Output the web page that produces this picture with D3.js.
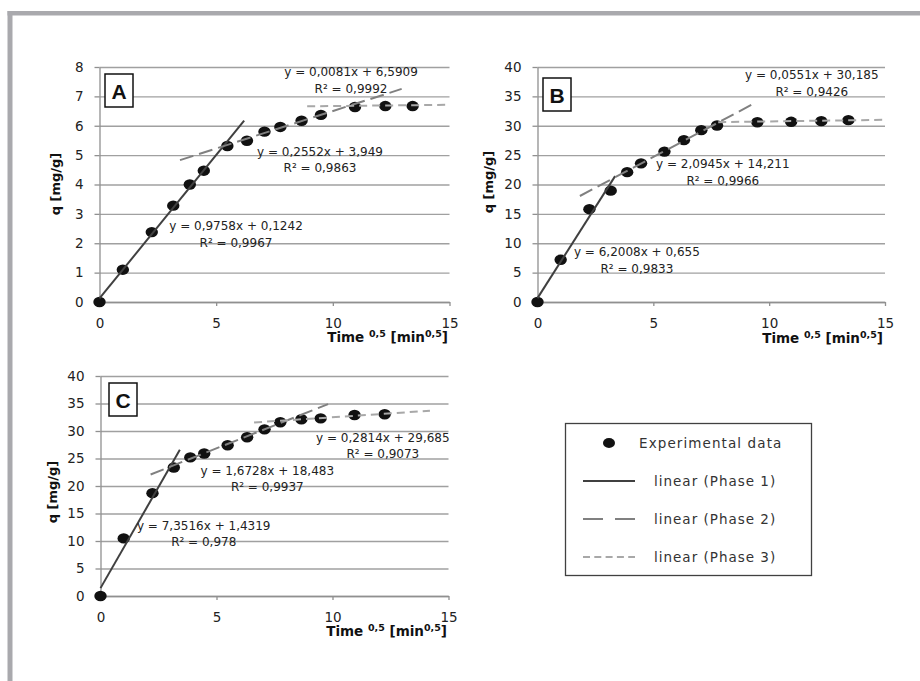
<!DOCTYPE html>
<html>
<head>
<meta charset="utf-8">
<script src="https://cdn.jsdelivr.net/npm/d3@7"></script>
<style>
  body { margin: 0; background: #fff; }
  svg { display: block; font-family: 'DejaVu Sans', sans-serif; }
</style>
</head>
<body>
<svg></svg>
<script>
const width = 920
const height = 681

// ---- data ----
const xTicks = [0, 5, 10, 15]
const yTicksA = [0, 1, 2, 3, 4, 5, 6, 7, 8]
const yTicksBC = [0, 5, 10, 15, 20, 25, 30, 35, 40]

// time^0.5 [min^0.5] and q [mg/g]
const timeA = [0, 1, 2.24, 3.16, 3.87, 4.47, 5.48, 6.32, 7.07, 7.75, 8.66, 9.49, 10.95, 12.25, 13.42]
const qA = [0, 1.1, 2.38, 3.28, 4.0, 4.47, 5.31, 5.49, 5.8, 5.96, 6.17, 6.37, 6.64, 6.67, 6.67]

const timeB = [0, 1, 2.24, 3.16, 3.87, 4.47, 5.48, 6.32, 7.07, 7.75, 9.49, 10.95, 12.25, 13.42]
const qB = [0, 7.19, 15.8, 18.95, 22.1, 23.6, 25.6, 27.55, 29.25, 30.05, 30.6, 30.67, 30.78, 30.95]

const timeC = [0, 1, 2.24, 3.16, 3.87, 4.47, 5.48, 6.32, 7.07, 7.75, 8.66, 9.49, 10.95, 12.25]
const qC = [0, 10.47, 18.7, 23.36, 25.2, 25.9, 27.4, 28.87, 30.3, 31.6, 32.13, 32.3, 32.9, 33.04]

// linear fits per phase (1, 2, 3)
const slopesA = [0.9758, 0.2552, 0.0081]
const interceptsA = [0.1242, 3.949, 6.5909]
const r2A = [0.9967, 0.9863, 0.9992]
const fitFromA = [0, 3.45, 8.9]
const fitToA = [6.2, 12.95, 15]

const slopesB = [6.2008, 2.0945, 0.0551]
const interceptsB = [0.655, 14.211, 30.185]
const r2B = [0.9833, 0.9966, 0.9426]
const fitFromB = [0, 1.83, 7.8]
const fitToB = [3.35, 9.43, 15]

const slopesC = [7.3516, 1.6728, 0.2814]
const interceptsC = [1.4319, 18.483, 29.685]
const r2C = [0.978, 0.9937, 0.9073]
const fitFromC = [0, 2.16, 6.62]
const fitToC = [3.42, 9.81, 14.2]

const phaseNames = ['linear (Phase 1)', 'linear (Phase 2)', 'linear (Phase 3)']
const pointName = 'Experimental data'

// ---- layout ----
const phaseStyle = [
  { stroke: '#404040', dash: null, legendDash: null },
  { stroke: '#808080', dash: '14,6', legendDash: '20,12' },
  { stroke: '#a8a8a8', dash: '8,5', legendDash: '7,4.3' },
]

const panels = [
  {
    letter: 'A', time: timeA, q: qA, yMax: 8, yTicks: yTicksA,
    slopes: slopesA, intercepts: interceptsA, r2: r2A, from: fitFromA, to: fitToA,
    frame: [99.5, 449.5, 67, 302],
    eqAt: [[5.85, 2.59], [9.45, 5.14], [10.78, 7.83]],
    letterBox: [5.5, 7], yTitle: [55, 184], xTitle: [448, 342],
  },
  {
    letter: 'B', time: timeB, q: qB, yMax: 40, yTicks: yTicksBC,
    slopes: slopesB, intercepts: interceptsB, r2: r2B, from: fitFromB, to: fitToB,
    frame: [537.5, 885, 67, 302],
    eqAt: [[4.29, 8.56], [8.0, 23.54], [11.84, 38.7]],
    letterBox: [5.5, 11], yTitle: [488, 182], xTitle: [883, 343],
  },
  {
    letter: 'C', time: timeC, q: qC, yMax: 40, yTicks: yTicksBC,
    slopes: slopesC, intercepts: interceptsC, r2: r2C, from: fitFromC, to: fitToC,
    frame: [100.5, 448.5, 376, 596],
    eqAt: [[4.45, 12.84], [7.19, 22.84], [12.17, 28.84]],
    letterBox: [8.5, 7], yTitle: [52, 492], xTitle: [447, 636],
  },
]

const svg = d3.select('svg').attr('width', width).attr('height', height)

// outer frame (top and left edges only are visible)
svg.append('rect').attr('x', 7.5).attr('y', 11).attr('width', width - 7.5).attr('height', 4.5).attr('fill', '#a9a9ad')
svg.append('rect').attr('x', 7.5).attr('y', 11).attr('width', 5).attr('height', height - 11).attr('fill', '#a9a9ad')

const fmt = (v) => String(v).replace('.', ',')

function drawPanel(p) {
  const [left, right, top, bottom] = p.frame
  const x = d3.scaleLinear().domain([0, 15]).range([left, right])
  const y = d3.scaleLinear().domain([0, p.yMax]).range([bottom, top])
  const g = svg.append('g')

  // horizontal gridlines
  g.append('g')
    .attr('transform', `translate(${left},0)`)
    .call(d3.axisLeft(y).tickValues(p.yTicks).tickSize(-(right - left)).tickFormat(''))
    .call((s) => s.select('.domain').remove())
    .selectAll('line')
    .attr('stroke', '#a0a0a0')
    .attr('stroke-width', 1.3)

  // y axis
  const ya = g.append('g')
    .attr('transform', `translate(${left},0)`)
    .call(d3.axisLeft(y).tickValues(p.yTicks).tickSize(5).tickSizeOuter(0).tickPadding(11))
  // x axis
  const xa = g.append('g')
    .attr('transform', `translate(0,${bottom})`)
    .call(d3.axisBottom(x).tickValues(xTicks).tickSize(4).tickSizeOuter(0).tickPadding(12))
  ;[ya, xa].forEach((a) => {
    a.select('.domain').attr('stroke', '#909090').attr('stroke-width', 1.3)
    a.selectAll('line').attr('stroke', '#909090').attr('stroke-width', 1.3)
    a.selectAll('text')
      .attr('fill', '#222')
      .style('font-family', "'DejaVu Sans', sans-serif")
      .style('font-size', '13.5px')
  })

  // data points
  g.append('g')
    .selectAll('ellipse')
    .data(p.time.map((t, i) => [t, p.q[i]]))
    .join('ellipse')
    .attr('cx', (d) => x(d[0]))
    .attr('cy', (d) => y(d[1]))
    .attr('rx', 6.2)
    .attr('ry', 5.2)
    .attr('fill', '#111')

  // fitted lines
  const line = d3.line().x((d) => x(d[0])).y((d) => y(d[1]))
  p.slopes.forEach((m, i) => {
    const b = p.intercepts[i]
    const ends = [p.from[i], p.to[i]].map((t) => [t, m * t + b])
    g.append('path')
      .attr('d', line(ends))
      .attr('fill', 'none')
      .attr('stroke', phaseStyle[i].stroke)
      .attr('stroke-width', 2)
      .attr('stroke-dasharray', phaseStyle[i].dash)
  })

  // equation labels
  p.slopes.forEach((m, i) => {
    const [ex, ey] = p.eqAt[i]
    const t = g.append('text')
      .attr('text-anchor', 'middle')
      .attr('fill', '#222')
      .style('font-size', '12px')
    t.append('tspan').attr('x', x(ex)).attr('y', y(ey) + 4.5)
      .text(`y = ${fmt(m)}x + ${fmt(p.intercepts[i])}`)
    t.append('tspan').attr('x', x(ex)).attr('y', y(ey) + 21)
      .text(`R² = ${fmt(p.r2[i])}`)
  })

  // panel letter
  const bx = left + p.letterBox[0]
  const by = top + p.letterBox[1]
  g.append('rect')
    .attr('x', bx).attr('y', by).attr('width', 28).attr('height', 33)
    .attr('fill', '#fff').attr('stroke', '#111').attr('stroke-width', 1.5)
  g.append('text')
    .attr('x', bx + 14).attr('y', by + 24.5)
    .attr('text-anchor', 'middle')
    .style('font-family', "'Liberation Sans', Arial, sans-serif")
    .style('font-weight', 'bold')
    .style('font-size', '21px')
    .attr('fill', '#111')
    .text(p.letter)

  // axis titles
  g.append('text')
    .attr('transform', `translate(${p.yTitle[0]},${p.yTitle[1]}) rotate(-90)`)
    .attr('text-anchor', 'middle')
    .attr('dy', '0.35em')
    .style('font-weight', 'bold')
    .style('font-size', '13px')
    .attr('fill', '#111')
    .text('q [mg/g]')

  const xt = g.append('text')
    .attr('x', p.xTitle[0]).attr('y', p.xTitle[1])
    .attr('text-anchor', 'end')
    .style('font-weight', 'bold')
    .style('font-size', '13.5px')
    .attr('fill', '#111')
  xt.append('tspan').text('Time ')
  xt.append('tspan').attr('dy', -5).style('font-size', '9.5px').text('0,5')
  xt.append('tspan').attr('dy', 5).text(' [min')
  xt.append('tspan').attr('dy', -5).style('font-size', '9.5px').text('0,5')
  xt.append('tspan').attr('dy', 5).text(']')
}

panels.forEach(drawPanel)

// legend
const legend = svg.append('g')
legend.append('rect')
  .attr('x', 565.5).attr('y', 423.5).attr('width', 246).attr('height', 152)
  .attr('fill', '#fff').attr('stroke', '#404040').attr('stroke-width', 1.3)

legend.append('ellipse').attr('cx', 609).attr('cy', 443).attr('rx', 6).attr('ry', 5).attr('fill', '#111')
legend.append('text')
  .attr('x', 639).attr('y', 443).attr('dy', '0.35em')
  .style('font-size', '13.5px').style('letter-spacing', '1.1px')
  .attr('fill', '#333')
  .text(pointName)

phaseNames.forEach((name, i) => {
  const ly = 481 + i * 38
  legend.append('line')
    .attr('x1', 583).attr('x2', 635).attr('y1', ly).attr('y2', ly)
    .attr('stroke', phaseStyle[i].stroke)
    .attr('stroke-width', 2)
    .attr('stroke-dasharray', phaseStyle[i].legendDash)
  legend.append('text')
    .attr('x', 654).attr('y', ly).attr('dy', '0.35em')
    .style('font-size', '13.5px').style('letter-spacing', '1px')
    .attr('fill', '#333')
    .text(name)
})
</script>
</body>
</html>
